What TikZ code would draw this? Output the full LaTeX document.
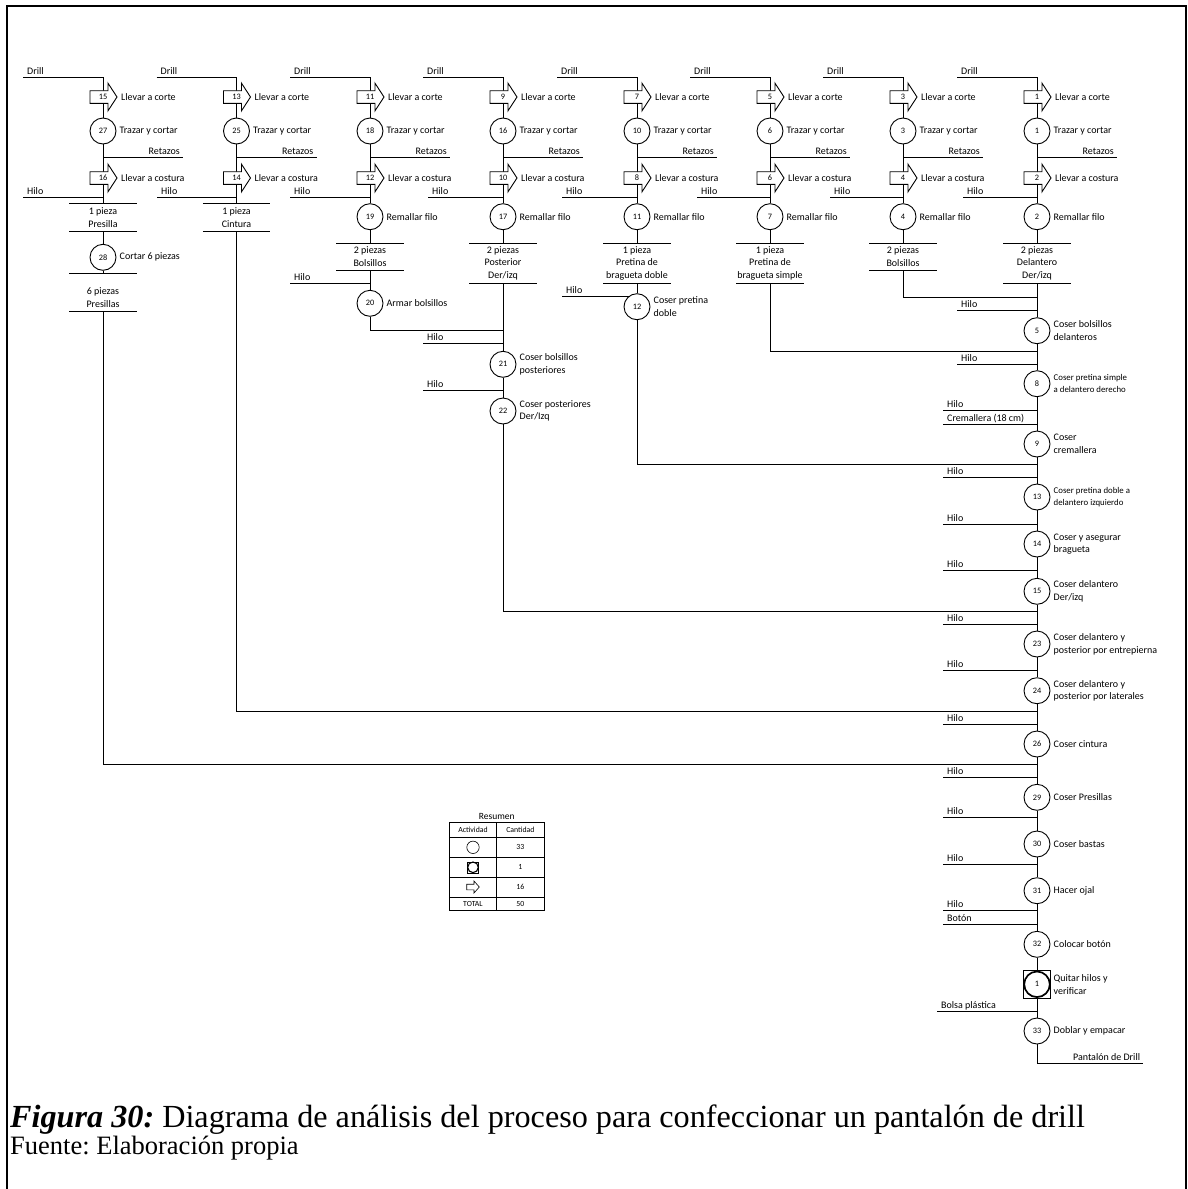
\documentclass[tikz,border=0pt]{standalone}
\usepackage{fontspec}
\setmainfont{Liberation Serif}
\newfontfamily\calibfam{Carlito}
\usetikzlibrary{backgrounds}
\frenchspacing

\newcommand\lblfont{\calibfam\fontsize{10}{12.7}\selectfont}
\newcommand\smalllbl{\calibfam\fontsize{8.8}{11.6}\selectfont}
\newcommand\numfont{\calibfam\fontsize{8.3}{10}\selectfont}
\newcommand\tblfont{\calibfam\fontsize{7.8}{9}\selectfont}
\newcommand\tblhead{\calibfam\fontsize{9.5}{11}\selectfont}
\newcommand\capfont{\fontsize{32.2}{36}\selectfont}
\newcommand\srcfont{\fontsize{26.5}{30}\selectfont}

\tikzset{
  flow/.style={line width=0.9pt},
  tline/.style={line width=0.6pt},
  op/.style={circle, draw, fill=white, line width=0.9pt, minimum size=26pt, inner sep=0pt, font=\numfont},
  oplab/.style={anchor=west, align=left, inner sep=0pt, font=\lblfont},
  num/.style={inner sep=0pt, font=\numfont},
  txt/.style={inner sep=0pt, font=\lblfont},
  tbl/.style={inner sep=0pt, font=\tblfont},
  piece/.style={fill=white, minimum width=67pt, inner sep=0pt},
}

% transport: block arrow with its number
\newcommand\trn[4]{%
  \filldraw[flow, fill=white] (#2-13,#3-6.3) -- (#2+5,#3-6.3) -- (#2+5,#3-13.8) -- (#2+14,#3)
    -- (#2+5,#3+13.8) -- (#2+5,#3+6.3) -- (#2-13,#3+6.3) -- cycle;
  \node[num] (#1) at (#2,#3) {#4};}

% operation: numbered circle with its description on the right
\newcommand\opn[6][]{%
  \node[op] (#2) at (#3,#4) {#5};
  \node[oplab,#1] (#2l) at (#3+16.5,#4) {#6};}

% material entering a column: free end, label above the line
\newcommand\inp[5]{%
  \coordinate (#1) at (#2,#3);
  \node[txt, anchor=base west] (#1t) at (#2+4,#3-3) {#5};
  \draw[flow] (#1) -- (#1 -| #4);}

% material leaving a column
\newcommand\outp[5]{%
  \coordinate (#1) at (#4,#3);
  \draw[flow] (#1 -| #2) -- (#1);
  \node[txt, anchor=base east] (#1t) at (#4-3,#3-3) {#5};}

% intermediate pieces between two rules
\newcommand\pc[6][0]{%
  \node[piece, minimum height={#5-#4}] (#2) at (#3,{(#4+#5)/2}) {};
  \node[txt, align=center] (#2t) at (#3,{(#4+#5)/2+#1}) {#6};
  \draw[flow] (#2.north west) -- (#2.north east);
  \draw[flow] (#2.south west) -- (#2.south east);}

% common head of every cutting column
\newcommand\colhead[6]{%
  \coordinate (c#1) at (#2,77);
  \inp{d#1}{#2-80}{77}{c#1}{Drill}
  \trn{t#3}{#2}{97}{#3}
  \node[txt, anchor=west] (t#3l) at (#2+18,97) {Llevar a corte};
  \opn{o#4}{#2}{131}{#4}{Trazar y cortar}
  \outp{r#1}{c#1}{157}{#2+80}{Retazos}
  \trn{t#5}{#2}{178}{#5}
  \node[txt, anchor=west] (t#5l) at (#2+18,178) {Llevar a costura};
  \inp{h#1}{#6}{197}{c#1}{Hilo}}

\begin{document}
\begin{tikzpicture}[x=1pt,y=-1pt]
\useasboundingbox (0,0) rectangle (1188,1189);
\draw[line width=2pt] (7,1189) -- (7,6) -- (1186,6) -- (1186,1189);

% ---------- cutting columns ----------
\colhead{1}{103}{15}{27}{16}{23}
\colhead{2}{236.5}{13}{25}{14}{157}
\colhead{3}{370}{11}{18}{12}{290}
\colhead{4}{503}{9}{16}{10}{428}
\colhead{5}{637}{7}{10}{8}{562}
\colhead{6}{770}{5}{6}{6}{697}
\colhead{7}{903}{3}{3}{4}{830}
\colhead{8}{1037}{1}{1}{2}{963}

% column 1: presillas
\pc{p1}{103}{204}{231}{1 pieza\\Presilla}
\opn{o28}{103}{257.3}{28}{Cortar 6 piezas}
\pc[4.5]{p1b}{103}{274}{311.7}{6 piezas\\Presillas}
% column 2: cintura
\pc{p2}{236.5}{204}{231}{1 pieza\\Cintura}
% column 3: bolsillos posteriores
\opn{o19}{370}{216.7}{19}{Remallar filo}
\pc{p3}{370}{243.3}{270}{2 piezas\\Bolsillos}
\inp{h3b}{290}{283.3}{c3}{Hilo}
\opn{o20}{370}{303.3}{20}{Armar bolsillos}
% column 4: posteriores
\opn{o17}{503}{216.7}{17}{Remallar filo}
\pc{p4}{503}{243.3}{283.3}{2 piezas\\Posterior\\Der/izq}
\inp{h4b}{423}{343.3}{c4}{Hilo}
\opn{o21}{503}{364.3}{21}{Coser bolsillos\\posteriores}
\inp{h4c}{423}{390}{c4}{Hilo}
\opn{o22}{503}{411}{22}{Coser posteriores\\Der/Izq}
% column 5: pretina doble
\opn{o11}{637}{216.7}{11}{Remallar filo}
\pc{p5}{637}{243.3}{283.3}{1 pieza\\Pretina de\\bragueta doble}
\inp{h5b}{562}{296.7}{c5}{Hilo}
\opn{o12}{637}{306.7}{12}{Coser pretina\\doble}
% column 6: pretina simple
\opn{o7}{770}{216.7}{7}{Remallar filo}
\pc{p6}{770}{243.3}{283.3}{1 pieza\\Pretina de\\bragueta simple}
% column 7: bolsillos delanteros
\opn{o4}{903}{216.7}{4}{Remallar filo}
\pc{p7}{903}{243.3}{270}{2 piezas\\Bolsillos}
% column 8: delanteros, main assembly line
\opn{o2}{1037}{216.7}{2}{Remallar filo}
\pc{p8}{1037}{243.3}{283.3}{2 piezas\\Delantero\\Der/izq}

% ---------- assembly ----------
\inp{m1}{957}{310}{c8}{Hilo}
\opn{o5}{1037}{330.7}{5}{Coser bolsillos\\delanteros}
\inp{m2}{957}{364}{c8}{Hilo}
\opn[font=\smalllbl]{o8}{1037}{383.7}{8}{Coser pretina simple\\a delantero derecho}
\inp{m3}{943}{410.7}{c8}{Hilo}
\inp{m4}{943}{424}{c8}{Cremallera (18 cm)}
\opn{o9}{1037}{444}{9}{Coser\\cremallera}
\inp{m5}{943}{477.3}{c8}{Hilo}
\opn[font=\smalllbl]{o13}{1037}{497}{13}{Coser pretina doble a\\delantero izquierdo}
\inp{m6}{943}{524}{c8}{Hilo}
\opn{o14}{1037}{544}{14}{Coser y asegurar\\bragueta}
\inp{m7}{943}{570.7}{c8}{Hilo}
\opn{o15}{1037}{591.3}{15}{Coser delantero\\Der/izq}
\inp{m8}{943}{624}{c8}{Hilo}
\opn{o23}{1037}{644}{23}{Coser delantero y\\posterior por entrepierna}
\inp{m9}{943}{670.7}{c8}{Hilo}
\opn{o24}{1037}{690.7}{24}{Coser delantero y\\posterior por laterales}
\inp{m10}{943}{724}{c8}{Hilo}
\opn{o26}{1037}{744}{26}{Coser cintura}
\inp{m11}{943}{777.3}{c8}{Hilo}
\opn{o29}{1037}{797.3}{29}{Coser Presillas}
\inp{m12}{943}{817.3}{c8}{Hilo}
\opn{o30}{1037}{844}{30}{Coser bastas}
\inp{m13}{943}{864}{c8}{Hilo}
\opn{o31}{1037}{890.7}{31}{Hacer ojal}
\inp{m14}{943}{910.7}{c8}{Hilo}
\inp{m15}{943}{924}{c8}{Botón}
\opn{o32}{1037}{944.3}{32}{Colocar botón}
% combined operation and inspection
\node[draw, fill=white, tline, minimum size=27.4pt, inner sep=0pt] (i1s) at (1037,984.3) {};
\node[op, line width=1.7pt, minimum size=25.6pt] (i1) at (1037,984.3) {1};
\node[oplab] (i1l) at (1037+16.5,984.3) {Quitar hilos y\\verificar};
\inp{m16}{937}{1011}{c8}{Bolsa plástica}
\opn{o33}{1037}{1031}{33}{Doblar y empacar}
\coordinate (fin) at (1143.3,1063.3);
\node[txt, anchor=base east] (fint) at (1140.3,1060.3) {Pantalón de Drill};

% junctions on the receiving columns
\coordinate (j1) at (1037,764);
\coordinate (j2) at (1037,711);
\coordinate (j3) at (503,330);
\coordinate (j4) at (1037,611);
\coordinate (j5) at (1037,464);
\coordinate (j6) at (1037,351);
\coordinate (j7) at (1037,297);

\begin{pgfonlayer}{background}
\fill[white] (0,0) rectangle (1188,1189);
\draw[flow] (c1) -- (t15) -- (o27) -- (t16) -- (p1) -- (o28) -- (p1b);
\draw[flow] (p1b) |- (j1);
\draw[flow] (c2) -- (t13) -- (o25) -- (t14) -- (p2);
\draw[flow] (p2) |- (j2);
\draw[flow] (c3) -- (t11) -- (o18) -- (t12) -- (o19) -- (p3) -- (o20);
\draw[flow] (o20) |- (j3);
\draw[flow] (c4) -- (t9) -- (o16) -- (t10) -- (o17) -- (p4) -- (o21) -- (o22);
\draw[flow] (o22) |- (j4);
\draw[flow] (c5) -- (t7) -- (o10) -- (t8) -- (o11) -- (p5) -- (o12);
\draw[flow] (o12) |- (j5);
\draw[flow] (c6) -- (t5) -- (o6) -- (t6) -- (o7) -- (p6);
\draw[flow] (p6) |- (j6);
\draw[flow] (c7) -- (t3) -- (o3) -- (t4) -- (o4) -- (p7);
\draw[flow] (p7) |- (j7);
\draw[flow] (c8) -- (t1) -- (o1) -- (t2) -- (o2) -- (p8) -- (o5) -- (o8) -- (o9)
  -- (o13) -- (o14) -- (o15) -- (o23) -- (o24) -- (o26) -- (o29) -- (o30)
  -- (o31) -- (o32) -- (i1s) -- (o33);
\draw[flow] (o33) |- (fin);
\end{pgfonlayer}

% ---------- summary table ----------
\node[inner sep=0pt, font=\tblhead] (res) at (496.7,816.7) {Resumen};
\coordinate (ta) at (449.3,822.7);
\coordinate (tb) at (544,910);
\draw[tline] (ta) rectangle (tb);
\draw[tline] (496.7,822.7) -- (496.7,910);
\foreach \yy in {837.3,857.3,877.3,897} \draw[tline] (449.3,\yy) -- (544,\yy);
\node[tbl] (th1) at (473,830) {Actividad};
\node[tbl] (th2) at (520.4,830) {Cantidad};
\draw[tline] (473,847.3) circle (6.2pt);
\draw[tline] (467.5,861.8) rectangle (478.5,872.8);
\draw[line width=1.1pt] (473,867.3) circle (5.3pt);
\filldraw[tline, fill=white] (466.7,884.2) -- (474,884.2) -- (474,881) -- (479.3,887)
  -- (474,893) -- (474,889.8) -- (466.7,889.8) -- cycle;
\node[tbl] (v1) at (520.4,847.3) {33};
\node[tbl] (v2) at (520.4,867.3) {1};
\node[tbl] (v3) at (520.4,887) {16};
\node[tbl] (tt) at (473,903.5) {TOTAL};
\node[tbl] (v4) at (520.4,903.5) {50};

% ---------- caption ----------
\node[anchor=base west, inner sep=0pt, font=\capfont] (cap1) at (10,1127)
  {\textbf{\textit{Figura 30:}} Diagrama de análisis del proceso para confeccionar un pantalón de drill};
\node[anchor=base west, inner sep=0pt, font=\srcfont] (cap2) at (10,1154)
  {Fuente: Elaboración propia};
\end{tikzpicture}
\end{document}
